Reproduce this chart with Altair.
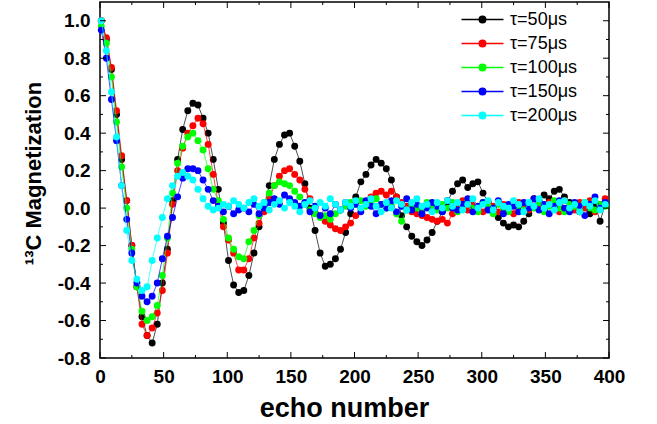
import altair as alt
import pandas as pd

# ---------------- data ----------------
ECHO_START, ECHO_STEP = 1, 4   # echo number of first sample, spacing between samples

labels = ["τ=50μs", "τ=75μs", "τ=100μs", "τ=150μs", "τ=200μs"]
colors = ["#000000", "#ff0000", "#00ff00", "#0000ff", "#00ffff"]

tau50 = [
    1.00, 0.90, 0.74, 0.50, 0.26, 0.04, -0.20, -0.42, -0.58, -0.68,
    -0.72, -0.62, -0.40, -0.22, 0.04, 0.26, 0.42, 0.52, 0.56, 0.55,
    0.48, 0.40, 0.26, 0.10, -0.08, -0.28, -0.41, -0.45, -0.44, -0.36,
    -0.24, -0.10, 0.01, 0.12, 0.26, 0.34, 0.39, 0.40, 0.33, 0.25,
    0.13, 0.00, -0.12, -0.24, -0.31, -0.30, -0.27, -0.22, -0.13, -0.03,
    0.06, 0.14, 0.18, 0.23, 0.26, 0.24, 0.21, 0.15, 0.06, -0.04,
    -0.10, -0.15, -0.18, -0.20, -0.17, -0.13, -0.07, -0.02, 0.03, 0.09,
    0.13, 0.15, 0.11, 0.13, 0.14, 0.08, 0.03, -0.02, -0.05, -0.08,
    -0.10, -0.09, -0.10, -0.07, -0.03, 0.01, 0.04, 0.07, 0.05, 0.09,
    0.10, 0.06, 0.03, 0.00, -0.02, 0.01, -0.03, 0.02, -0.07, 0.02,
]
tau75 = [
    1.00, 0.91, 0.75, 0.52, 0.28, 0.04, -0.20, -0.42, -0.62, -0.68,
    -0.64, -0.56, -0.44, -0.24, 0.02, 0.20, 0.32, 0.40, 0.44, 0.48,
    0.45, 0.34, 0.18, 0.02, -0.10, -0.17, -0.24, -0.33, -0.33, -0.27,
    -0.16, -0.08, -0.02, 0.05, 0.12, 0.17, 0.20, 0.21, 0.18, 0.15,
    0.10, 0.05, 0.00, -0.04, -0.07, -0.09, -0.11, -0.12, -0.10, -0.08,
    -0.04, 0.00, 0.03, 0.06, 0.08, 0.09, 0.07, 0.09, 0.06, 0.03,
    0.01, -0.02, -0.03, -0.04, -0.05, -0.06, -0.07, -0.06, -0.08, -0.03,
    0.00, 0.04, -0.01, 0.02, 0.00, -0.02, 0.03, 0.01, -0.02, 0.02,
    0.00, -0.03, 0.03, 0.01, -0.01, 0.05, 0.02, -0.01, 0.03, 0.00,
    -0.02, 0.04, 0.01, -0.01, 0.03, 0.00, 0.04, -0.02, 0.02, 0.05,
]
tau100 = [
    0.97, 0.88, 0.70, 0.46, 0.22, 0.00, -0.22, -0.42, -0.55, -0.60,
    -0.58, -0.52, -0.36, -0.16, 0.08, 0.24, 0.33, 0.38, 0.40, 0.36,
    0.31, 0.21, 0.10, 0.04, -0.06, -0.16, -0.22, -0.26, -0.27, -0.18,
    -0.12, -0.04, 0.03, 0.08, 0.12, 0.14, 0.13, 0.12, 0.09, 0.06,
    0.02, -0.01, -0.03, -0.05, -0.04, -0.06, -0.03, -0.01, 0.01, 0.03,
    0.02, 0.04, 0.01, 0.03, 0.05, 0.02, 0.00, 0.01, -0.03, -0.07,
    -0.01, 0.02, 0.00, -0.02, 0.03, 0.01, -0.01, 0.02, 0.00, 0.03,
    -0.02, 0.01, 0.04, 0.00, -0.02, 0.03, 0.01, -0.03, 0.02, 0.00,
    -0.02, 0.03, 0.01, -0.01, 0.02, 0.00, 0.03, -0.02, 0.01, 0.04,
    0.00, -0.02, 0.02, 0.01, -0.01, 0.03, 0.00, -0.01, 0.02, 0.01,
]
tau150 = [
    0.95, 0.80, 0.58, 0.36, 0.12, -0.06, -0.24, -0.40, -0.47, -0.50,
    -0.47, -0.40, -0.27, -0.15, -0.05, 0.06, 0.16, 0.21, 0.21, 0.20,
    0.15, 0.10, 0.04, 0.01, -0.02, 0.01, -0.03, -0.01, 0.00, -0.02,
    0.02, -0.03, 0.00, 0.03, 0.05, 0.02, 0.07, 0.05, 0.03, 0.01,
    0.03, -0.02, 0.01, -0.04, 0.00, -0.03, 0.02, -0.01, 0.03, 0.00,
    0.02, -0.02, 0.04, 0.01, -0.03, 0.02, 0.00, 0.04, -0.02, 0.01,
    0.05, -0.01, 0.02, -0.03, 0.00, 0.03, 0.01, -0.02, 0.04, 0.00,
    -0.01, 0.02, 0.05, -0.02, 0.01, 0.03, -0.01, 0.00, 0.04, -0.03,
    0.02, 0.01, -0.02, 0.03, 0.00, 0.05, -0.01, 0.02, -0.03, 0.01,
    0.04, 0.00, -0.02, 0.03, 0.01, -0.04, 0.02, 0.06, 0.00, 0.03,
]
tau200 = [
    1.00, 0.84, 0.62, 0.38, 0.12, -0.12, -0.28, -0.38, -0.44, -0.42,
    -0.28, -0.16, -0.05, 0.05, 0.12, 0.17, 0.19, 0.17, 0.15, 0.10,
    0.05, 0.01, -0.01, 0.00, 0.02, 0.01, 0.04, 0.02, 0.00, 0.03,
    0.05, 0.01, 0.03, -0.01, 0.02, 0.04, 0.00, 0.03, 0.01, -0.02,
    0.02, 0.04, 0.00, 0.03, 0.01, 0.05, 0.02, -0.01, 0.03, 0.01,
    0.04, 0.00, 0.02, 0.05, 0.01, -0.02, 0.03, 0.00, 0.04, 0.02,
    -0.01, 0.03, 0.05, 0.01, 0.02, -0.02, 0.03, 0.00, 0.04, 0.01,
    0.03, -0.01, 0.02, 0.05, 0.00, 0.02, 0.04, -0.01, 0.03, 0.01,
    0.00, 0.04, 0.02, -0.02, 0.03, 0.01, 0.05, 0.00, 0.02, -0.01,
    0.03, 0.04, 0.00, 0.02, -0.02, 0.03, 0.01, 0.04, -0.01, 0.02,
]
series_values = [tau50, tau75, tau100, tau150, tau200]

x_major = [0, 50, 100, 150, 200, 250, 300, 350, 400]
x_minor = [25, 75, 125, 175, 225, 275, 325, 375]
y_major = [-0.8, -0.6, -0.4, -0.2, 0.0, 0.2, 0.4, 0.6, 0.8, 1.0]
y_minor = [-0.7, -0.5, -0.3, -0.1, 0.1, 0.3, 0.5, 0.7, 0.9]

# ---------------- table ----------------
rows = []
for lab, vals in zip(labels, series_values):
    for i, v in enumerate(vals):
        rows.append({"echo": ECHO_START + ECHO_STEP * i, "m": v, "series": lab})
df = pd.DataFrame(rows)

W, H = 509, 356
FONT = "Liberation Sans"

xscale = alt.Scale(domain=[0, 400], nice=False, zero=False)
yscale = alt.Scale(domain=[-0.8, 1.1], nice=False, zero=False)

xaxis = alt.Axis(
    values=x_major, title="echo number", ticks=False, tickSize=0, domain=False,
    grid=False, labelFont=FONT, labelFontSize=19, labelFontWeight="bold",
    labelColor="black", labelPadding=9, labelFlush=False, labelOverlap=False,
    titleFont=FONT, titleFontSize=27, titleFontWeight="bold", titleColor="black",
    titleX=244, titleY=58, titleBaseline="alphabetic", titleAlign="center",
)
yaxis = alt.Axis(
    values=y_major, title="¹³C Magnetization", ticks=False, tickSize=0,
    domain=False, grid=False, labelFont=FONT, labelFontSize=19,
    labelFontWeight="bold", labelColor="black", labelPadding=10,
    labelOverlap=False, labelFlush=False,
    labelExpr="datum.value < 0 ? '-' + format(-datum.value, '.1f') : format(datum.value, '.1f')",
    titleFont=FONT, titleFontSize=22, titleFontWeight="bold", titleColor="black",
    titleX=-60, titleY=171, titleAngle=270, titleBaseline="alphabetic",
    titleAlign="center",
)

X = alt.X("echo:Q", scale=xscale, axis=xaxis)
Y = alt.Y("m:Q", scale=yscale, axis=yaxis)

# one merged legend (stroke + fill): a line with a dot in its middle
legend = alt.Legend(
    title=None, orient="none", legendX=371, legendY=6,
    symbolType="M-2,0L2,0M-0.31,0A0.31,0.31,0,1,1,0.31,0A0.31,0.31,0,1,1,-0.31,0Z",
    symbolSize=441, symbolStrokeWidth=1.5, labelFont=FONT, labelFontSize=18,
    labelColor="black", labelOffset=16, rowPadding=3, padding=0,
)

stroke_enc = alt.Stroke("series:N", scale=alt.Scale(domain=labels, range=colors), legend=legend)
fill_enc = alt.Fill("series:N", scale=alt.Scale(domain=labels, range=colors), legend=legend)

layers = []
for lab in labels:
    base = alt.Chart(df).transform_filter(alt.datum.series == lab)
    layers.append(base.mark_line(strokeWidth=1, strokeOpacity=0.7).encode(x=X, y=Y, stroke=stroke_enc))
    layers.append(base.mark_circle(size=48, opacity=1).encode(x=X, y=Y, fill=fill_enc))

# inward ticks on all four sides
def xticks(vals, length):
    d = pd.DataFrame({"echo": vals})
    b = alt.Chart(d).mark_rule(color="black", strokeWidth=1)
    return [
        b.encode(x=X, y=alt.value(H), y2=alt.value(H - length)),
        b.encode(x=X, y=alt.value(0), y2=alt.value(length)),
    ]

def yticks(vals, length):
    d = pd.DataFrame({"m": vals})
    b = alt.Chart(d).mark_rule(color="black", strokeWidth=1)
    return [
        b.encode(y=Y, x=alt.value(0), x2=alt.value(length)),
        b.encode(y=Y, x=alt.value(W), x2=alt.value(W - length)),
    ]

tick_layers = xticks(x_major, 6) + xticks(x_minor, 3) + yticks(y_major, 6) + yticks(y_minor, 3)

chart = (
    alt.layer(*layers, *tick_layers)
    .properties(
        width=W, height=H,
        padding={"left": 100, "top": 2, "right": 48, "bottom": 66},
        autosize=alt.AutoSizeParams(type="none"),
        background="white",
    )
    .configure_view(stroke="black", strokeWidth=1.5)
)

chart.save("out.html", embed_options={"renderer": "svg", "actions": False})
